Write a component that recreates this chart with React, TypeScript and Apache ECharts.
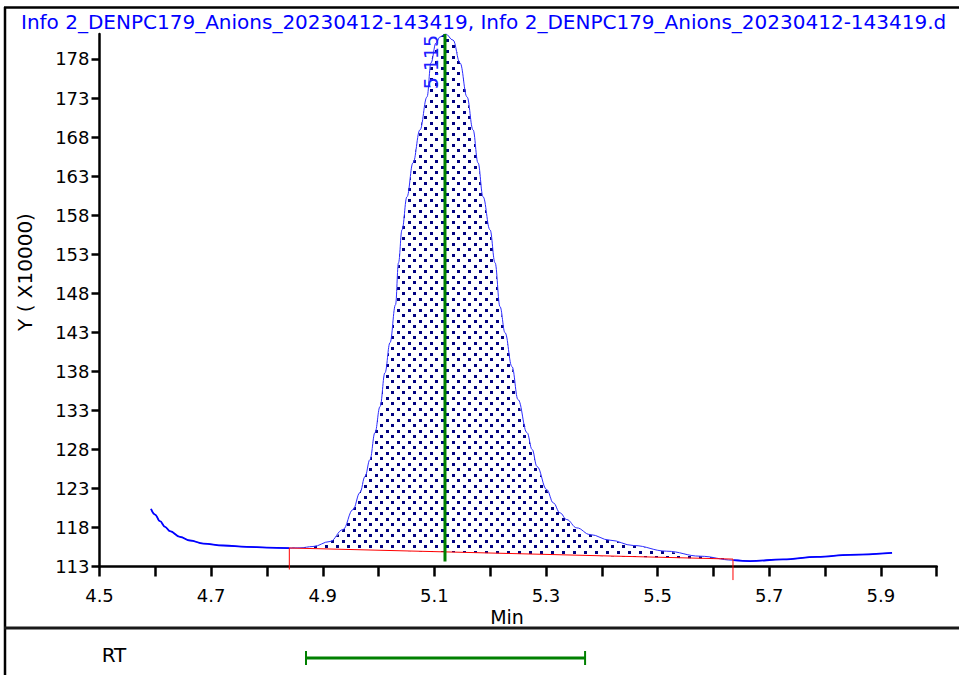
import React, { useEffect, useRef } from "react";
import * as echarts from "echarts";

// ---------- data ----------
const TITLE =
  "Info 2_DENPC179_Anions_20230412-143419, Info 2_DENPC179_Anions_20230412-143419.d";
const Y_NAME = "Y ( X10000)";
const X_NAME = "Min";
const RT_LABEL = "RT";

const X_MIN = 4.5;
const X_MAX = 6.0;
const X_STEP = 0.1;
const Y_MIN = 113;
const Y_MAX = 181.2;

const yTickValues = [113, 118, 123, 128, 133, 138, 143, 148, 153, 158, 163, 168, 173, 178];
const xLabelValues = [4.5, 4.7, 4.9, 5.1, 5.3, 5.5, 5.7, 5.9];

// retention time (min)
const rt = [
  4.5923, 4.5995, 4.6084, 4.6174, 4.6263, 4.6442, 4.6622, 4.686, 4.7218, 4.7638,
  4.7996, 4.8401, 4.8592, 4.8825, 4.913, 4.9363, 4.9542, 4.9667, 4.9757, 4.9846,
  4.9936, 5.0026, 5.0115, 5.0205, 5.0304, 5.0357, 5.042, 5.0509, 5.0617, 5.0742,
  5.0868, 5.0939, 5.1029, 5.1101, 5.12, 5.1334, 5.146, 5.1585, 5.1693, 5.1782,
  5.1872, 5.1997, 5.2087, 5.2176, 5.2266, 5.2391, 5.2499, 5.266, 5.2751, 5.2839,
  5.3013, 5.3131, 5.3251, 5.3371, 5.3551, 5.3789, 5.4147, 5.4565, 5.5163, 5.576,
  5.6357, 5.6656, 5.7247, 5.7856, 5.8447, 5.92,
];
// intensity (x10000)
const intensity = [
  120.38, 119.65, 118.8, 118.08, 117.52, 116.8, 116.33, 115.94, 115.69, 115.52,
  115.43, 115.36, 115.39, 115.56, 116.2, 117.73, 120.29, 122.47, 124.52, 126.69,
  130.15, 133.47, 137.82, 141.66, 146.53, 151.9, 156.12, 160.35, 164.7, 168.92,
  173.14, 177.49, 180.05, 180.82, 181.2, 180.43, 177.49, 173.14, 168.92, 164.7,
  160.35, 156.12, 151.9, 146.27, 142.94, 138.59, 134.37, 130.15, 128.0, 125.8,
  122.85, 121.15, 119.87, 119.01, 117.95, 117.09, 116.37, 115.69, 114.96, 114.32,
  113.81, 113.7, 113.9, 114.24, 114.5, 114.75,
];

const baselineStart = [4.8401, 115.37];
const baselineEnd = [5.635, 113.95];
const peakApex = 5.119;
const peakLabel = "5.115";
const peakLineBottom = 113.65;
const rtWindow = [4.87, 5.37];

// ---------- helpers ----------
function makeDotPattern(): any {
  const c = document.createElement("canvas");
  c.width = 11;
  c.height = 11;
  const ctx = c.getContext("2d")!;
  ctx.fillStyle = "#000080";
  ctx.fillRect(1, 1, 3, 3);
  ctx.fillRect(6, 6, 3, 3);
  return {
    image: c.toDataURL(),
    repeat: "repeat",
    imageWidth: 11,
    imageHeight: 11,
  };
}

const FONT = '"DejaVu Sans", "Liberation Sans", sans-serif';

export default function App() {
  const ref = useRef<HTMLDivElement>(null);

  useEffect(() => {
    if (!ref.current) return;
    const chart = echarts.init(ref.current, undefined, { renderer: "svg" });
    const pattern = makeDotPattern();

    const curve = rt.map((x, i) => [x, intensity[i]]);
    const leftTail = curve.filter((p) => p[0] <= baselineStart[0] + 0.0001);
    const rightTail = curve.filter((p) => p[0] >= baselineEnd[0] - 0.001);

    const option: any = {
      animation: false,
      backgroundColor: "#ffffff",
      textStyle: { fontFamily: FONT },
      grid: [
        { left: 99.5, right: 22.3, top: 34, bottom: 108.5 },
        { left: 99.5, right: 22.3, top: 641, height: 34 },
      ],
      xAxis: [
        {
          type: "value",
          gridIndex: 0,
          min: X_MIN,
          max: X_MAX,
          interval: X_STEP,
          axisLine: { show: true, onZero: false, lineStyle: { color: "#000", width: 2.5 } },
          axisTick: { show: true, length: 10, lineStyle: { color: "#000", width: 2.5 } },
          axisLabel: {
            show: true,
            customValues: xLabelValues,
            formatter: (v: number) => v.toFixed(1),
            color: "#000",
            fontSize: 18,
            fontFamily: FONT,
            margin: 20,
          },
          splitLine: { show: false },
        },
        { type: "value", gridIndex: 1, min: X_MIN, max: X_MAX, show: false },
      ],
      yAxis: [
        {
          type: "value",
          gridIndex: 0,
          min: Y_MIN,
          max: Y_MAX,
          axisLine: { show: true, onZero: false, lineStyle: { color: "#000", width: 2.5 } },
          axisTick: {
            show: true,
            length: 8,
            customValues: yTickValues,
            lineStyle: { color: "#000", width: 2.5 },
          },
          axisLabel: {
            show: true,
            customValues: yTickValues,
            formatter: (v: number) => String(Math.round(v)),
            color: "#000",
            fontSize: 18,
            fontFamily: FONT,
            margin: 10,
          },
          splitLine: { show: false },
        },
        { type: "value", gridIndex: 1, min: 0, max: 1, show: false },
      ],
      series: [
        {
          name: "area",
          type: "custom",
          xAxisIndex: 0,
          yAxisIndex: 0,
          z: 1,
          silent: true,
          data: [[baselineStart[0], baselineStart[1]]],
          renderItem: (_params: any, api: any) => {
            const pts: number[][] = [];
            pts.push(api.coord(baselineStart));
            for (let i = 0; i < rt.length; i++) {
              if (rt[i] > baselineStart[0] + 0.0001 && rt[i] < baselineEnd[0]) {
                pts.push(api.coord([rt[i], intensity[i]]));
              }
            }
            pts.push(api.coord(baselineEnd));
            return {
              type: "polygon",
              shape: { points: pts, smooth: 0.25 },
              style: { fill: pattern, stroke: null },
            };
          },
        },
        {
          name: "signal",
          type: "line",
          xAxisIndex: 0,
          yAxisIndex: 0,
          z: 3,
          data: curve,
          showSymbol: false,
          smooth: 0.4,
          smoothMonotone: "x",
          lineStyle: { color: "#2b2bff", width: 1 },
          silent: true,
        },
        {
          name: "tailL",
          type: "line",
          z: 3,
          data: leftTail,
          showSymbol: false,
          smooth: 0.4,
          smoothMonotone: "x",
          lineStyle: { color: "#0000ff", width: 1.8 },
          silent: true,
        },
        {
          name: "tailR",
          type: "line",
          z: 3,
          data: rightTail,
          showSymbol: false,
          smooth: 0.4,
          smoothMonotone: "x",
          lineStyle: { color: "#0000ff", width: 1.8 },
          silent: true,
        },
        {
          name: "baseline",
          type: "custom",
          xAxisIndex: 0,
          yAxisIndex: 0,
          z: 4,
          silent: true,
          clip: false,
          data: [[baselineStart[0], baselineStart[1]]],
          renderItem: (_params: any, api: any) => {
            const a = api.coord(baselineStart);
            const b = api.coord(baselineEnd);
            return {
              type: "polyline",
              shape: {
                points: [
                  [a[0], a[1] + 21.5],
                  a,
                  b,
                  [b[0], b[1] + 21],
                ],
              },
              style: { stroke: "#ff0000", lineWidth: 1, fill: null },
            };
          },
        },
        {
          name: "apex",
          type: "custom",
          xAxisIndex: 0,
          yAxisIndex: 0,
          z: 5,
          silent: true,
          clip: false,
          data: [[peakApex, Y_MAX]],
          renderItem: (_params: any, api: any) => {
            const top = api.coord([peakApex, Y_MAX]);
            const bot = api.coord([peakApex, peakLineBottom]);
            return {
              type: "group",
              children: [
                {
                  type: "line",
                  shape: { x1: top[0], y1: top[1], x2: bot[0], y2: bot[1] },
                  style: { stroke: "#008000", lineWidth: 3 },
                },
                {
                  type: "text",
                  x: top[0] - 13.5,
                  y: top[1] + 28,
                  rotation: Math.PI / 2,
                  style: {
                    text: peakLabel,
                    fill: "#2020ff",
                    fontSize: 19,
                    fontFamily: FONT,
                    align: "center",
                    verticalAlign: "middle",
                  },
                },
              ],
            };
          },
        },
        {
          name: "rtWindow",
          type: "custom",
          xAxisIndex: 1,
          yAxisIndex: 1,
          silent: true,
          clip: false,
          data: [[rtWindow[0], 0.5]],
          renderItem: (_params: any, api: any) => {
            const a = api.coord([rtWindow[0], 0.5]);
            const b = api.coord([rtWindow[1], 0.5]);
            return {
              type: "group",
              children: [
                {
                  type: "line",
                  shape: { x1: a[0], y1: a[1], x2: b[0], y2: b[1] },
                  style: { stroke: "#008000", lineWidth: 3 },
                },
                {
                  type: "line",
                  shape: { x1: a[0], y1: a[1] - 7, x2: a[0], y2: a[1] + 7 },
                  style: { stroke: "#008000", lineWidth: 2 },
                },
                {
                  type: "line",
                  shape: { x1: b[0], y1: b[1] - 7, x2: b[0], y2: b[1] + 7 },
                  style: { stroke: "#008000", lineWidth: 2 },
                },
              ],
            };
          },
        },
      ],
      graphic: [
        {
          type: "line",
          shape: { x1: 4, y1: 7.5, x2: 959, y2: 7.5 },
          style: { stroke: "#000", lineWidth: 2.5 },
        },
        {
          type: "line",
          shape: { x1: 5, y1: 7, x2: 5, y2: 675 },
          style: { stroke: "#000", lineWidth: 2.5 },
        },
        {
          type: "line",
          shape: { x1: 4, y1: 628, x2: 959, y2: 628 },
          style: { stroke: "#1a1a1a", lineWidth: 3 },
        },
        {
          type: "text",
          x: 21,
          y: 22,
          style: {
            text: TITLE,
            fill: "#0000ff",
            fontSize: 20,
            fontFamily: FONT,
            align: "left",
            verticalAlign: "middle",
          },
        },
        {
          type: "text",
          x: 25,
          y: 272,
          rotation: Math.PI / 2,
          style: {
            text: Y_NAME,
            fill: "#000",
            fontSize: 20,
            fontFamily: FONT,
            align: "center",
            verticalAlign: "middle",
          },
        },
        {
          type: "text",
          x: 507,
          y: 617,
          style: {
            text: X_NAME,
            fill: "#000",
            fontSize: 19,
            fontFamily: FONT,
            align: "center",
            verticalAlign: "middle",
          },
        },
        {
          type: "text",
          x: 114,
          y: 655,
          style: {
            text: RT_LABEL,
            fill: "#000",
            fontSize: 20,
            fontFamily: FONT,
            align: "center",
            verticalAlign: "middle",
          },
        },
      ],
    };

    chart.setOption(option);
    return () => chart.dispose();
  }, []);

  return (
    <div
      ref={ref}
      style={{ position: "fixed", left: 0, top: 0, width: 959, height: 675, background: "#fff" }}
    />
  );
}
